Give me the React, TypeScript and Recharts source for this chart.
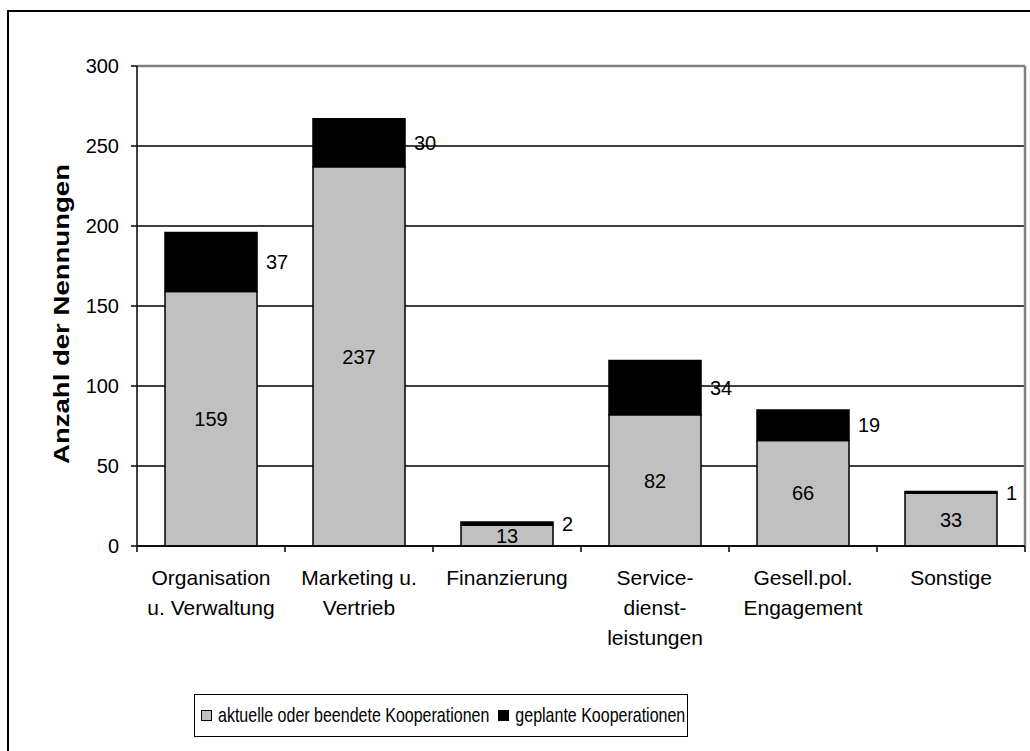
import React from 'react';
import { BarChart, Bar, XAxis, YAxis, CartesianGrid, Legend, LabelList, ReferenceLine } from 'recharts';

// Kategorien (Zeilenumbruch wie in der Vorlage)
const categories = [
  'Organisation\nu. Verwaltung',
  'Marketing u.\nVertrieb',
  'Finanzierung',
  'Service-\ndienst-\nleistungen',
  'Gesell.pol.\nEngagement',
  'Sonstige',
];
const aktuell = [159, 237, 13, 82, 66, 33];
const geplant = [37, 30, 2, 34, 19, 1];
const yTicks = [0, 50, 100, 150, 200, 250, 300];
const seriesNames = ['aktuelle oder beendete Kooperationen', 'geplante Kooperationen'];
const seriesColors = ['#c0c0c0', '#000000'];

const FONT = '"Liberation Sans", Arial, sans-serif';

const data = categories.map((name, i) => ({
  name,
  aktuell: aktuell[i],
  geplant: geplant[i],
}));

const CategoryTick = (props: any) => {
  const { x, y, payload, width, visibleTicksCount, index } = props;
  const band = width / visibleTicksCount;
  const lines = String(payload.value).split('\n');
  return (
    <g>
      <line x1={x - band / 2} x2={x - band / 2} y1={y} y2={y + 6} stroke="#000" strokeWidth={1.5} />
      {index === visibleTicksCount - 1 && (
        <line x1={x + band / 2} x2={x + band / 2} y1={y} y2={y + 6} stroke="#000" strokeWidth={1.5} />
      )}
      {lines.map((line, i) => (
        <text key={i} x={x} y={y + 39 + i * 30} textAnchor="middle" fontSize={21} fontFamily={FONT} fill="#000">
          {line}
        </text>
      ))}
    </g>
  );
};

const PlannedLabel = (props: any) => {
  const { x, y, width, height, value } = props;
  return (
    <text x={Number(x) + Number(width) + 9} y={Number(y) + Number(height) / 2} dy="0.355em" fontSize={20} fontFamily={FONT} fill="#000">
      {value}
    </text>
  );
};

const AxisTitle = (props: any) => {
  const { viewBox } = props;
  const cx = viewBox.x + 61;
  const cy = viewBox.y + viewBox.height / 2 + 8;
  return (
    <text
      x={cx}
      y={cy}
      transform={`rotate(-90 ${cx} ${cy})`}
      textAnchor="middle"
      dy="0.355em"
      fontSize={22}
      fontWeight="bold"
      fontFamily={FONT}
      fill="#000"
      textLength={300}
      lengthAdjust="spacingAndGlyphs"
    >
      Anzahl der Nennungen
    </text>
  );
};

const LegendBox = () => (
  <div
    style={{
      boxSizing: 'border-box',
      width: '100%',
      height: '100%',
      border: '1px solid #000',
      background: '#fff',
      display: 'flex',
      alignItems: 'center',
      paddingLeft: 6,
      fontFamily: FONT,
      fontSize: 16,
      color: '#000',
      whiteSpace: 'nowrap',
    }}
  >
    {seriesNames.map((name, i) => (
      <span key={name} style={{ display: 'flex', alignItems: 'center', marginRight: 9 }}>
        <span
          style={{
            display: 'inline-block',
            width: 9,
            height: 9,
            background: seriesColors[i],
            border: '1px solid #000',
            marginRight: 6,
          }}
        />
        <span style={{ display: 'inline-block', transform: 'scaleY(1.3)' }}>{name}</span>
      </span>
    ))}
  </div>
);

// rechter Rand der Zeichenfläche (grau)
const rightEdge = ({ offset }: any) => [offset.left + offset.width];

export default function App() {
  return (
    <div style={{ position: 'absolute', left: 0, top: 0, width: 1030, height: 751, background: '#fff', overflow: 'hidden' }}>
      <div
        style={{
          position: 'absolute',
          left: 7,
          top: 10,
          width: 1100,
          height: 800,
          borderLeft: '2px solid #000',
          borderTop: '2px solid #000',
        }}
      />
      <div style={{ position: 'absolute', left: 0, top: 0 }}>
        <BarChart width={1030} height={751} data={data} margin={{ top: 66, right: 5, left: 0, bottom: 105 }} barSize={92}>
          <CartesianGrid vertical={false} stroke="#000" strokeWidth={1.4} />
          <CartesianGrid horizontal={false} stroke="#808080" strokeWidth={2.5} verticalCoordinatesGenerator={rightEdge} />
          <XAxis
            dataKey="name"
            height={100}
            interval={0}
            tickLine={false}
            tickSize={0}
            tickMargin={0}
            axisLine={{ stroke: '#000', strokeWidth: 1.5 }}
            tick={<CategoryTick />}
          />
          <YAxis
            width={137}
            domain={[0, 300]}
            ticks={yTicks}
            interval={0}
            tickSize={6}
            tickMargin={12}
            axisLine={{ stroke: '#000', strokeWidth: 1.5 }}
            tickLine={{ stroke: '#000', strokeWidth: 1.5 }}
            tick={{ fontSize: 20, fontFamily: FONT, fill: '#000' }}
            label={<AxisTitle />}
          />
          <ReferenceLine y={300} stroke="#808080" strokeWidth={2.5} />
          <Legend
            layout="horizontal"
            verticalAlign="middle"
            align="center"
            content={<LegendBox />}
            wrapperStyle={{ left: 194, top: 694, width: 494, height: 43 }}
          />
          <Bar dataKey="aktuell" name={seriesNames[0]} stackId="a" fill={seriesColors[0]} stroke="#000" strokeWidth={1.5} isAnimationActive={false}>
            <LabelList dataKey="aktuell" position="center" fill="#000" fontSize={20} fontFamily={FONT} />
          </Bar>
          <Bar dataKey="geplant" name={seriesNames[1]} stackId="a" fill={seriesColors[1]} stroke="#000" strokeWidth={1.5} isAnimationActive={false}>
            <LabelList dataKey="geplant" content={<PlannedLabel />} />
          </Bar>
        </BarChart>
      </div>
    </div>
  );
}
